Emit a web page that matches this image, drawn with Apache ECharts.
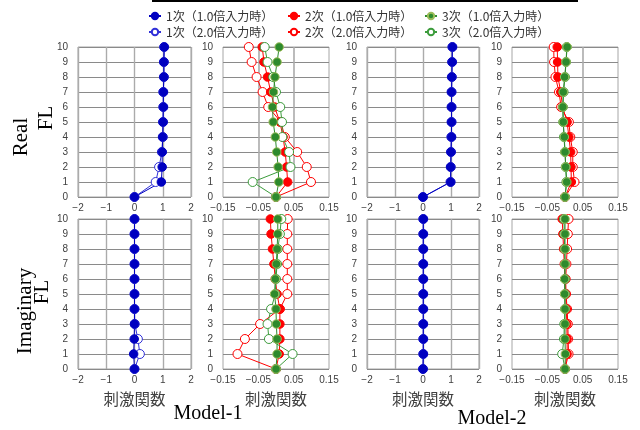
<!DOCTYPE html>
<html><head><meta charset="utf-8">
<script src="https://cdn.jsdelivr.net/npm/echarts@6/dist/echarts.min.js"></script>
<style>html,body{margin:0;padding:0;background:#fff}#c{width:640px;height:430px}</style>
</head><body><div id="c"></div>
<script>
// ---------- data ----------
const levels = [0,1,2,3,4,5,6,7,8,9,10];
const yTickLabels = [0,1,2,3,4,5,6,7,8,9,10];
const xTicksWide = [-2,-1,0,1,2];
const xTicksNarrow = [-0.15,-0.05,0.05,0.15];
const seriesNames = ['1次（1.0倍入力時）','2次（1.0倍入力時）','3次（1.0倍入力時）','1次（2.0倍入力時）','2次（2.0倍入力時）','3次（2.0倍入力時）'];
const rowLabels = [['Real','FL'],['Imaginary','FL']];
const modelLabels = ['Model-1','Model-2'];
const xTitle = '刺激関数';

// Model-1, Real
const m1Real_1st_10 = [0,0.95,0.98,0.98,1.00,1.01,1.02,1.02,1.04,1.04,1.05];
const m1Real_1st_20 = [0,0.75,0.87,0.97,1.00,1.01,1.02,1.02,1.04,1.04,1.05];
const m1Real_2nd_10 = [0,0.033,0.030,0.026,0.020,0.011,-0.004,-0.015,-0.024,-0.034,-0.039];
const m1Real_2nd_20 = [0,0.099,0.087,0.060,0.025,0.014,-0.022,-0.038,-0.055,-0.069,-0.077];
const m1Real_3rd_10 = [0,0.008,0.006,0.002,-0.002,-0.008,-0.010,-0.007,-0.003,0.003,0.009];
const m1Real_3rd_20 = [0,-0.066,0.041,0.037,0.018,0.017,0.012,0.000,-0.008,-0.024,-0.032];
// Model-2, Real
const m2Real_1st_10 = [0,0.99,0.99,1.00,1.02,1.02,1.02,1.02,1.03,1.04,1.05];
const m2Real_1st_20 = [0,0.98,0.99,1.00,1.01,1.02,1.02,1.02,1.03,1.04,1.05];
const m2Real_2nd_10 = [0,0.018,0.017,0.016,0.011,0.006,-0.007,-0.012,-0.020,-0.021,-0.022];
const m2Real_2nd_20 = [0,0.027,0.022,0.022,0.015,0.011,-0.011,-0.017,-0.027,-0.031,-0.032];
const m2Real_3rd_10 = [0,0.005,0.002,0.000,-0.002,-0.005,-0.006,-0.005,-0.001,0.003,0.006];
const m2Real_3rd_20 = [0,0.004,0.002,0.000,-0.003,-0.005,-0.006,-0.004,0.000,0.003,0.005];
// Model-1, Imaginary
const m1Imag_1st_10 = [0,-0.03,-0.01,0,0,0,0,0,0,0,0];
const m1Imag_1st_20 = [0,0.19,0.12,0.01,0,0,0,0,0,0,0];
const m1Imag_2nd_10 = [0,0.009,0.011,0.011,0.011,0.003,-0.002,-0.006,-0.010,-0.014,-0.016];
const m1Imag_2nd_20 = [0,-0.109,-0.088,-0.045,0.011,0.032,0.032,0.032,0.032,0.032,0.033];
const m1Imag_3rd_10 = [0,0.003,0.003,0.001,0.000,-0.004,-0.002,0.001,0.003,0.005,0.005];
const m1Imag_3rd_20 = [0,0.047,-0.020,-0.024,-0.014,-0.002,0.000,0.003,0.005,0.011,0.015];
// Model-2, Imaginary
const m2Imag_1st_10 = [0,0.01,0.01,0.01,0.01,0.01,0.01,0.01,0.01,0.01,0.01];
const m2Imag_1st_20 = [0,0.01,0.01,0.01,0.01,0.01,0.01,0.01,0.01,0.01,0.01];
const m2Imag_2nd_10 = [0,0.006,0.006,0.005,0.004,0.002,0.000,-0.002,-0.004,-0.006,-0.008];
const m2Imag_2nd_20 = [0,0.010,0.009,0.008,0.006,0.003,0.002,0.004,0.006,0.008,0.010];
const m2Imag_3rd_10 = [0,0.001,0.000,0.000,0.000,-0.001,-0.001,0.000,0.000,0.000,0.000];
const m2Imag_3rd_20 = [0,-0.008,-0.003,-0.002,0.000,0.000,0.000,0.000,-0.001,-0.002,-0.003];

// ---------- layout / styles ----------
const cols = [{left:78,w:113,wide:true},{left:223,w:106,wide:false},{left:367,w:112,wide:true},{left:512,w:106,wide:false}];
const rows = [{top:47,h:150},{top:219,h:150}];
const panelData = [
  [[m1Real_1st_10,m1Real_1st_20],[m1Real_2nd_10,m1Real_2nd_20,m1Real_3rd_10,m1Real_3rd_20],[m2Real_1st_10,m2Real_1st_20],[m2Real_2nd_10,m2Real_2nd_20,m2Real_3rd_10,m2Real_3rd_20]],
  [[m1Imag_1st_10,m1Imag_1st_20],[m1Imag_2nd_10,m1Imag_2nd_20,m1Imag_3rd_10,m1Imag_3rd_20],[m2Imag_1st_10,m2Imag_1st_20],[m2Imag_2nd_10,m2Imag_2nd_20,m2Imag_3rd_10,m2Imag_3rd_20]]
];
const BLUE='#0000c0', BLUE2='#3030d8', RED='#ff0000', GREEN='#2d8a2d', GREEN2='#3c9c3c', GREENB='#9bbb59';
const styleOf = {
  '1次（1.0倍入力時）': {line:BLUE, fill:BLUE, border:BLUE, size:8.5},
  '1次（2.0倍入力時）': {line:BLUE2, fill:'#ffffff', border:BLUE2, size:9},
  '2次（1.0倍入力時）': {line:RED, fill:RED, border:RED, size:8.5},
  '2次（2.0倍入力時）': {line:RED, fill:'#ffffff', border:RED, size:9},
  '3次（1.0倍入力時）': {line:GREEN, fill:GREEN, border:GREENB, size:8.5},
  '3次（2.0倍入力時）': {line:GREEN2, fill:'#ffffff', border:GREEN2, size:9}
};
const TXT='#404040';
const VGRID='#ababab';
const FONT='"Liberation Sans","Noto Sans CJK JP",sans-serif';
const JFONT='"Noto Sans CJK JP",sans-serif';
const SERIF='"Liberation Serif","DejaVu Serif",serif';
const fmtNum = v => { const r = Math.round(v*100)/100; const s = (Math.abs(r) < 1e-9) ? '0' : String(Math.abs(r)); return (r < -1e-9 ? '\u2212' : '') + s; };

const grid=[], xAxis=[], yAxis=[], series=[];
let gi=0;
rows.forEach((row,ri)=>{
  cols.forEach((col,ci)=>{
    grid.push({left:col.left, top:row.top, width:col.w, height:row.h, show:true, borderColor:'#a6a6a6', borderWidth:1, containLabel:false});
    xAxis.push({
      type:'value', gridIndex:gi,
      min: col.wide ? xTicksWide[0] : xTicksNarrow[0],
      max: col.wide ? xTicksWide[xTicksWide.length-1] : xTicksNarrow[xTicksNarrow.length-1],
      interval: col.wide ? 1 : 0.05,
      axisLine:{show:false}, axisTick:{show:false},
      axisLabel:{margin:6, fontSize:10, color:TXT, fontFamily:FONT, showMinLabel:true, showMaxLabel:true, hideOverlap:false,
        formatter: v => {
          const list = col.wide ? xTicksWide : xTicksNarrow;
          return list.some(t => Math.abs(t - v) < 1e-6) ? fmtNum(v) : '';
        }},
      splitLine:{show: col.wide, lineStyle:{width:1.4, color:VGRID}},
      name: ri===1 ? xTitle : '', nameLocation:'middle', nameGap:22,
      nameTextStyle:{fontSize:15.5, color:TXT, fontFamily:JFONT}
    });
    yAxis.push({
      type:'value', gridIndex:gi, min:yTickLabels[0], max:yTickLabels[yTickLabels.length-1], interval:1,
      axisLine:{show:false}, axisTick:{show:false},
      axisLabel:{margin:10, fontSize:10, color:TXT, fontFamily:FONT},
      splitLine:{show:true, lineStyle:{color:'#8a8a8a', width:1}}
    });
    const arrs = panelData[ri][ci];
    let names;
    if (ci%2===0) names = ['1次（1.0倍入力時）','1次（2.0倍入力時）'];
    else names = ['2次（1.0倍入力時）','2次（2.0倍入力時）','3次（1.0倍入力時）','3次（2.0倍入力時）'];
    const order = (ci%2===0) ? [1,0] : [1,0,3,2];
    order.forEach((k,oi)=>{
      const nm = names[k], st = styleOf[nm];
      const s = {
        name:nm, type:'line', xAxisIndex:gi, yAxisIndex:gi,
        data: levels.map((lv,i)=>[arrs[k][i], lv]),
        symbol:'circle', symbolSize:st.size, showSymbol:true,
        lineStyle:{color:st.line, width:1},
        itemStyle:{color:st.fill, borderColor:st.border, borderWidth:1},
        emphasis:{disabled:true}, animation:false, clip:false
      };
      if (!col.wide && oi===0) {
        s.markLine = {
          silent:true, symbol:['none','none'], z:1, animation:false,
          label:{show:false},
          lineStyle:{color:VGRID, width:1.6, type:'solid'},
          emphasis:{disabled:true},
          data: xTicksNarrow.slice(1, xTicksNarrow.length-1).map(v=>({xAxis:v}))
        };
      }
      series.push(s);
    });
    gi++;
  });
});

const legendPos = [
  {left:148, top:10}, {left:287, top:10}, {left:424, top:10},
  {left:148, top:26}, {left:287, top:26}, {left:424, top:26}
];
const legend = seriesNames.map((nm,i)=>({
  data:[nm], left:legendPos[i].left, top:legendPos[i].top, itemWidth:12, itemHeight:8, itemGap:5,
  textStyle:{fontSize:12, color:'#333', fontFamily:JFONT}, selectedMode:false, padding:0
}));

const graphic = [
  {type:'rect', shape:{x:152, y:0, width:426, height:2}, style:{fill:'#000'}},
  {type:'text', x:21, y:137, rotation:Math.PI/2, style:{text:rowLabels[0][0], font:'21px '+SERIF, fill:'#000', textAlign:'center', textVerticalAlign:'middle'}},
  {type:'text', x:46, y:118, rotation:Math.PI/2, style:{text:rowLabels[0][1], font:'21px '+SERIF, fill:'#000', textAlign:'center', textVerticalAlign:'middle'}},
  {type:'text', x:25, y:311, rotation:Math.PI/2, style:{text:rowLabels[1][0], font:'21px '+SERIF, fill:'#000', textAlign:'center', textVerticalAlign:'middle'}},
  {type:'text', x:42, y:292, rotation:Math.PI/2, style:{text:rowLabels[1][1], font:'21px '+SERIF, fill:'#000', textAlign:'center', textVerticalAlign:'middle'}},
  {type:'text', x:208, y:414, style:{text:modelLabels[0], font:'20px '+SERIF, fill:'#000', textAlign:'center', textVerticalAlign:'middle'}},
  {type:'text', x:492, y:419, style:{text:modelLabels[1], font:'20px '+SERIF, fill:'#000', textAlign:'center', textVerticalAlign:'middle'}}
];

const chart = echarts.init(document.getElementById('c'), null, {renderer:'canvas'});
chart.setOption({animation:false, backgroundColor:'#fff', grid, xAxis, yAxis, series, legend, graphic});
</script></body></html>
